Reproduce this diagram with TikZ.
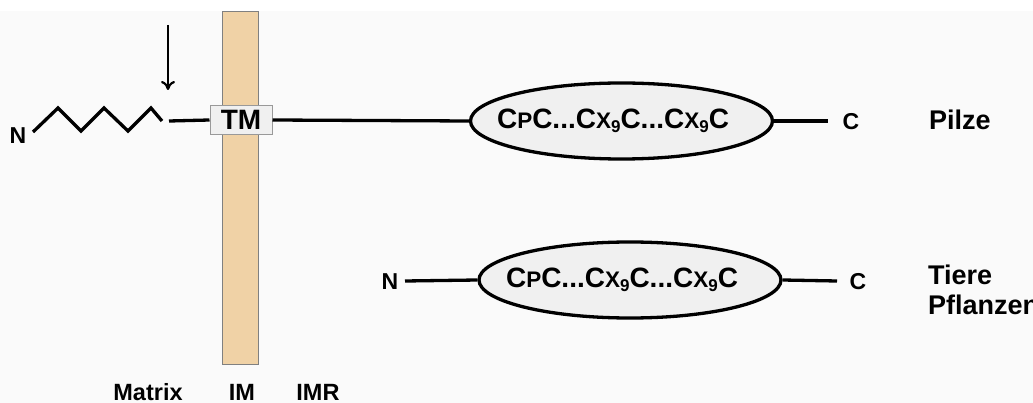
\documentclass[tikz,border=0pt]{standalone}
\usepackage{fontspec}
\setmainfont{Liberation Sans}
\usetikzlibrary{shapes.geometric,arrows.meta}
\newcommand{\mbig}[1]{{\fontsize{28}{28}\selectfont #1}}
\newcommand{\msc}[1]{{\fontsize{22.5}{22.5}\selectfont #1}}
\newcommand{\mnine}{\raisebox{-3.5pt}{\fontsize{17}{17}\selectfont 9}}
\newcommand{\motif}{\bfseries\mbig{C}\msc{P}\mbig{C...C}\msc{X}\mnine\mbig{C...C}\msc{X}\mnine\mbig{C}}
\begin{document}
\begin{tikzpicture}[x=1pt,y=-1pt,
  ln/.style={line width=3.3pt},
  lbl/.style={font=\fontsize{23}{23}\selectfont\bfseries, inner sep=0pt},
  bigl/.style={font=\fontsize{27}{27}\selectfont\bfseries, inner sep=0pt},
  bot/.style={font=\fontsize{23.5}{23.5}\selectfont\bfseries, inner sep=0pt, anchor=base},
  cdomain/.style={ellipse, draw, line width=3.3pt, fill=gray!12, minimum width=302pt, minimum height=76pt, inner sep=0pt},
  motiftext/.style={inner sep=0pt}]
\clip (0,0) rectangle (1033,403);
\useasboundingbox (0,0) rectangle (1033,403);
\fill[white] (0,0) rectangle (1033,403);
\fill[black!2] (0,11) rectangle (1033,403);
% membrane
\node[draw=gray, line width=0.8pt, fill={rgb,255:red,240;green,210;blue,166}, minimum width=36pt, minimum height=353pt, inner sep=0pt, anchor=north west] (mem) at (222,11) {};
% row 1
\node[lbl] (n1) at (18,136) {N};
\coordinate (z0) at (33,132);
\coordinate (z1) at (58,108);
\coordinate (z2) at (81,131);
\coordinate (z3) at (104,108);
\coordinate (z4) at (128,131);
\coordinate (z5) at (151,108);
\coordinate (z6) at (162,121);
\coordinate (s1) at (169,121);
\draw[ln, line join=miter] (z0) -- (z1) -- (z2) -- (z3) -- (z4) -- (z5) -- (z6);
\node[draw=gray!80, line width=1pt, fill=gray!12, minimum width=62pt, minimum height=29pt, inner sep=0pt, font=\fontsize{28}{28}\selectfont\bfseries] (tm) at (241,120) {TM};
\draw[ln] (s1) -- (tm.west);
\node[cdomain] (e1) at (621.5,121) {};
\node[motiftext] (t1) at (613,121) {\motif};
\draw[ln] (tm.east) -- (e1.west);
\node[lbl] (c1) at (851,122) {C};
\coordinate (c1l) at (828,121);
\draw[ln] (e1.east) -- (c1l);
\coordinate (a0) at (168,25);
\coordinate (a1) at (168,90);
\draw[line width=2.2pt, -{To[length=9pt,width=14pt]}] (a0) -- (a1);
\node[bigl, anchor=base west] (pilze) at (929,130) {Pilze};
% row 2
\node[cdomain] (e2) at (630,280) {};
\node[motiftext] (t2) at (622,280) {\motif};
\node[lbl] (n2) at (390,282) {N};
\coordinate (n2r) at (405,281);
\draw[ln] (n2r) -- (e2.west);
\node[lbl] (c2) at (858,282) {C};
\coordinate (c2l) at (837,281);
\draw[ln] (e2.east) -- (c2l);
\node[bigl, anchor=base west] (tiere) at (928,284) {Tiere};
\node[bigl, anchor=base west] (pfl) at (928,314) {Pflanzen};
% bottom labels
\node[bot] (matrix) at (148,400) {Matrix};
\node[bot] (im) at (242,400) {IM};
\node[bot] (imr) at (318,400) {IMR};
\end{tikzpicture}
\end{document}
